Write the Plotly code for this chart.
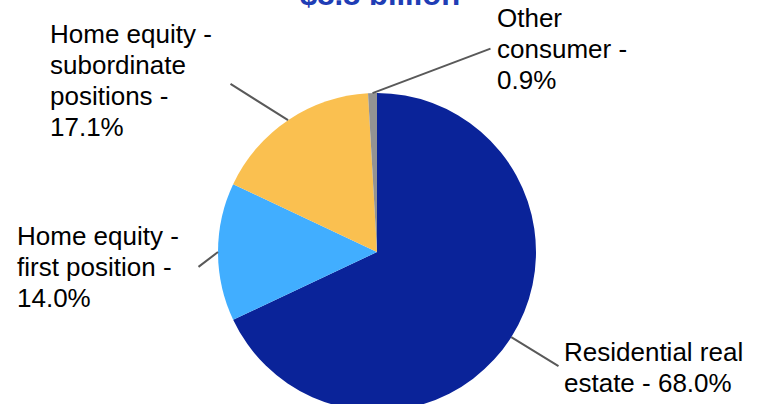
import math
import plotly.graph_objects as go

# ---- data ----
categories = ["Residential real estate", "Home equity - first position",
              "Home equity - subordinate positions", "Other consumer"]
values = [68.0, 14.0, 17.1, 0.9]
label_lines = [["Residential real", "estate - 68.0%"],
               ["Home equity -", "first position -", "14.0%"],
               ["Home equity -", "subordinate", "positions -", "17.1%"],
               ["Other", "consumer -", "0.9%"]]
title_text = "$8.8 billion"

# ---- style / layout ----
colors = ["#0A2399", "#41AEFF", "#FAC050", "#939393"]
W, H = 765, 420
cx, cy, R = 377, 252, 159          # pie centre and radius in pixels
label_boxes = [(562, 335), (15, 219), (48, 17), (495, 1)]   # top-left of first line box (px)
leader_ends = [(560, 367), (197, 268), (229, 83), (492, 48)]
LINE_STEP = 31
FONT = "Liberation Sans, Arial, sans-serif"
FSIZE = 26

fig = go.Figure(go.Pie(
    labels=categories, values=values, sort=False, direction="clockwise",
    rotation=0, textinfo="none", hoverinfo="label+percent",
    marker=dict(colors=colors, line=dict(width=0)),
    domain=dict(x=[(cx - R) / W, (cx + R) / W], y=[1 - (cy + R) / H, 1 - (cy - R) / H]),
    showlegend=False,
))

total = sum(values)
cum = 0.0
for v, lines, (bx, by), (ex, ey) in zip(values, label_lines, label_boxes, leader_ends):
    theta = 2 * math.pi * (cum + v / 2) / total
    cum += v
    px = cx + R * math.sin(theta)
    py = cy - R * math.cos(theta)
    fig.add_annotation(x=px / W, y=1 - py / H, xref="paper", yref="paper",
                       text="", showarrow=True, arrowhead=0, arrowwidth=2,
                       arrowcolor="#595959", ax=ex - px, ay=ey - py, standoff=0)
    for i, ln in enumerate(lines):
        fig.add_annotation(x=bx / W, y=1 - (by + i * LINE_STEP) / H, xref="paper", yref="paper",
                           text=ln, showarrow=False, xanchor="left", yanchor="top",
                           align="left", font=dict(family=FONT, size=FSIZE, color="#000000"))

fig.add_annotation(x=380 / W, y=1 - 14 / H, xref="paper", yref="paper",
                   text="<b>" + title_text + "</b>", showarrow=False,
                   xanchor="center", yanchor="bottom",
                   font=dict(family=FONT, size=31, color="#1F3DB5"))

fig.update_layout(width=W, height=H, margin=dict(l=0, r=0, t=0, b=0),
                  paper_bgcolor="white", plot_bgcolor="white")

fig.write_html("out.html", config={"displayModeBar": False},
               post_script="document.body.style.margin='0';document.body.style.overflow='hidden';")
